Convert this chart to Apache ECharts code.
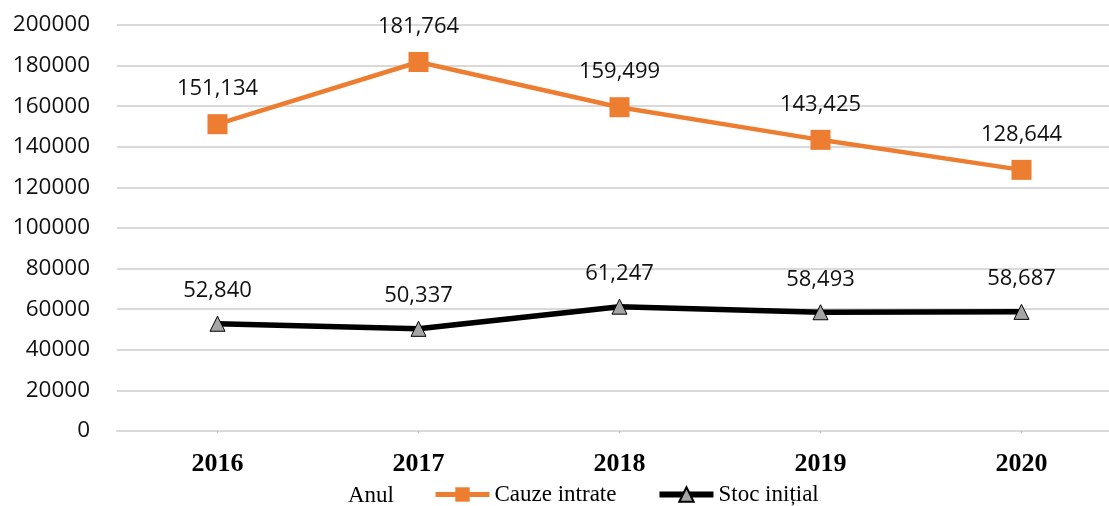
<!DOCTYPE html>
<html>
<head>
<meta charset="utf-8">
<script src="https://cdn.jsdelivr.net/npm/echarts@6/dist/echarts.min.js"></script>
<style>
  html, body { margin: 0; padding: 0; background: #fff; }
  #chart { width: 1109px; height: 506px; }
</style>
</head>
<body>
<div id="chart"></div>
<script>
// date
const years = ["2016", "2017", "2018", "2019", "2020"];
const cauzeIntrate = [151134, 181764, 159499, 143425, 128644];
const stocInitial = [52840, 50337, 61247, 58493, 58687];
const yTicks = { min: 0, max: 200000, interval: 20000 };

const myChart = echarts.init(document.getElementById("chart"));

const fmt = (p) => p.value.toLocaleString("en-US");

const option = {
  animation: false,
  grid: { left: 117, top: 25, right: -13, bottom: 75, outerBoundsMode: "none" },
  legend: {
    left: 433,
    top: 483,
    padding: 0,
    itemWidth: 54,
    itemHeight: 18,
    itemGap: 40,
    textStyle: { fontFamily: "Liberation Serif", fontSize: 23, color: "#000" },
    data: [
      { name: "Cauze intrate", lineStyle: { width: 5 } },
      { name: "Stoc inițial", lineStyle: { width: 6 } },
    ],
  },
  graphic: [
    {
      type: "text",
      left: 348,
      top: 484,
      style: { text: "Anul", font: "23px 'Liberation Serif'", fill: "#000" },
    },
  ],
  xAxis: {
    type: "category",
    data: years,
    axisLine: { lineStyle: { color: "#d9d9d9", width: 2 } },
    axisTick: { show: true, alignWithLabel: true, length: 2, lineStyle: { color: "#bbb" } },
    axisLabel: {
      margin: 20,
      fontFamily: "Liberation Serif",
      fontWeight: "bold",
      fontSize: 26,
      color: "#000",
    },
  },
  yAxis: {
    type: "value",
    min: yTicks.min,
    max: yTicks.max,
    interval: yTicks.interval,
    axisLine: { show: false },
    axisTick: { show: false },
    axisLabel: {
      margin: 27,
      fontFamily: "Open Sans",
      fontSize: 22.5,
      color: "#111",
      formatter: (v) => String(v),
    },
    splitLine: { lineStyle: { color: "#d9d9d9", width: 2 } },
  },
  series: [
    {
      name: "Cauze intrate",
      type: "line",
      data: cauzeIntrate,
      symbol: "rect",
      symbolSize: 20,
      itemStyle: { color: "#ED7D31" },
      lineStyle: { color: "#ED7D31", width: 4.5 },
      label: {
        show: true,
        position: "top",
        distance: 14,
        formatter: fmt,
        fontFamily: "Open Sans",
        fontSize: 22,
        color: "#111",
      },
    },
    {
      name: "Stoc inițial",
      type: "line",
      data: stocInitial,
      symbol: "triangle",
      symbolSize: 15,
      itemStyle: { color: "#A5A5A5", borderColor: "#000", borderWidth: 1 },
      lineStyle: { color: "#000", width: 5.5 },
      label: {
        show: true,
        position: "top",
        distance: 14,
        formatter: fmt,
        fontFamily: "Open Sans",
        fontSize: 22,
        color: "#111",
      },
    },
  ],
};

myChart.setOption(option);
</script>
</body>
</html>
